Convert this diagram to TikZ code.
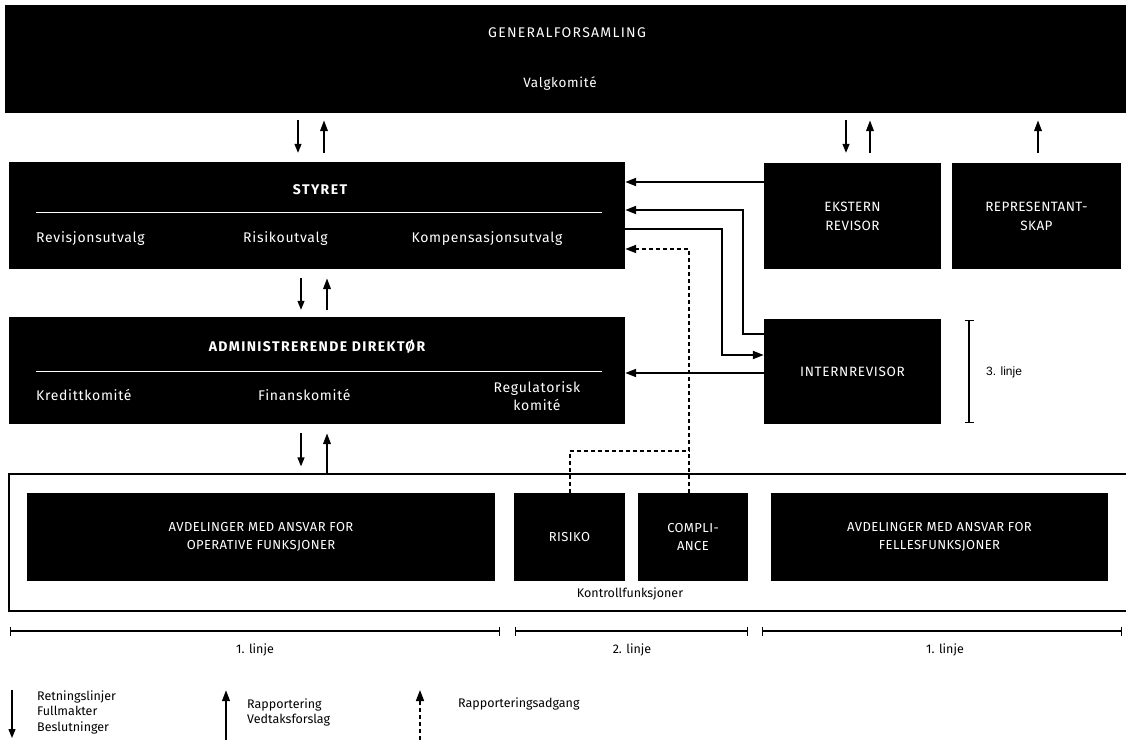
\documentclass[tikz,border=0pt]{standalone}
\usepackage{fontspec}
\setmainfont{Fira Sans}
\newfontfamily\trkA[LetterSpace=9]{Fira Sans}
\newfontfamily\trkB[LetterSpace=5]{Fira Sans}
\newfontfamily\trkC[LetterSpace=3]{Fira Sans}
\newfontfamily\trkD[LetterSpace=10]{Fira Sans}
\newfontfamily\arl{Liberation Sans}
\usetikzlibrary{arrows.meta,calc}
\begin{document}
\begin{tikzpicture}[x=1pt,y=-1pt,
  box/.style={fill=black,inner sep=0pt},
  wtxt/.style={text=white,inner sep=0pt,align=center,font=\trkB\fontsize{14}{18}\selectfont},
  ctxt/.style={text=white,inner sep=0pt,align=center,font=\trkC\fontsize{13}{18}\selectfont},
  ttl/.style={text=white,inner sep=0pt,align=center,font=\trkD\bfseries\fontsize{14}{16}\selectfont},
  ltxt/.style={text=black,inner sep=0pt,align=left,font=\fontsize{12.5}{15.5}\selectfont},
  dn/.style={-{Triangle[length=9pt,width=7pt]},line width=1.2pt},
  up/.style={-{Triangle[length=11pt,width=7.5pt]},line width=2.2pt},
  conn/.style={-{Triangle[length=11pt,width=8pt]},line width=2pt},
  dconn/.style={-{Triangle[length=11pt,width=8pt]},line width=2pt,dash pattern=on 4pt off 3pt},
  dline/.style={line width=2pt,dash pattern=on 4pt off 3pt},
  spanline/.style={{Bar[width=9pt,line width=1.3pt]}-{Bar[width=9pt,line width=1.3pt]},line width=1.3pt}]
\useasboundingbox (0,0) rectangle (1126,740);
\fill[white] (0,0) rectangle (1126,740);

% main boxes
\node[box,minimum width=1122pt,minimum height=108pt] (gf) at (566,59) {};
\node[ctxt,font=\trkA\fontsize{14}{16}\selectfont] (gft) at (567,33) {GENERALFORSAMLING};
\node[ctxt,font=\trkB\fontsize{13.5}{16}\selectfont] (valg) at (560,84) {Valgkomité};

\node[box,minimum width=616pt,minimum height=107pt] (sty) at (317,215.5) {};
\node[ttl] (styt) at (320,190) {STYRET};
\draw[white,line width=1pt] (36,212) -- (602,212);
\node[wtxt,anchor=west] (rev) at (36,239) {Revisjonsutvalg};
\node[wtxt,anchor=west] (risu) at (243,239) {Risikoutvalg};
\node[wtxt] (komp) at (487,239) {Kompensasjonsutvalg};

\node[box,minimum width=177pt,minimum height=106pt] (eks) at (852.5,216) {};
\node[wtxt,font=\trkC\fontsize{13.5}{19}\selectfont] at (eks.center) {EKSTERN\\REVISOR};
\node[box,minimum width=169pt,minimum height=106pt] (rep) at (1036.5,216) {};
\node[wtxt,font=\trkC\fontsize{13.5}{19}\selectfont] at (rep.center) {REPRESENTANT-\\SKAP};

\node[box,minimum width=616pt,minimum height=107pt] (adm) at (317,370.5) {};
\node[ttl] (admt) at (317,347) {ADMINISTRERENDE DIREKTØR};
\draw[white,line width=1pt] (36,371) -- (602,371);
\node[wtxt,anchor=west] (kred) at (36,395) {Kredittkomité};
\node[wtxt,anchor=west] (fin) at (258,395) {Finanskomité};
\node[wtxt] (reg) at (537,396) {Regulatorisk\\komité};

\node[box,minimum width=177pt,minimum height=105pt] (int) at (852.5,371.5) {};
\node[wtxt,font=\trkB\fontsize{13.5}{19}\selectfont] at (int.center) {INTERNREVISOR};

% organisation frame
\node[draw,line width=1.2pt,fill=white,minimum width=1122pt,minimum height=137pt,inner sep=0pt] (org) at (570,542.5) {};
\node[box,minimum width=468pt,minimum height=88pt] (ope) at (261,537) {};
\node[ctxt] at (ope.center) {AVDELINGER MED ANSVAR FOR\\OPERATIVE FUNKSJONER};
\node[box,minimum width=111pt,minimum height=88pt] (ris) at (569.5,537) {};
\node[ctxt] at (ris.center) {RISIKO};
\node[box,minimum width=110pt,minimum height=88pt] (com) at (693,537) {};
\node[ctxt] at (com.center) {COMPLI-\\ANCE};
\node[box,minimum width=337pt,minimum height=88pt] (fel) at (939.5,537) {};
\node[ctxt] at (fel.center) {AVDELINGER MED ANSVAR FOR\\FELLESFUNKSJONER};
\node[ltxt] (kon) at (630,594) {Kontrollfunksjoner};

% helper coordinates
\coordinate (xa) at (298,0);
\coordinate (xb) at (324,0);
\coordinate (xc) at (301,0);
\coordinate (xd) at (327,0);
\coordinate (xe) at (846,0);
\coordinate (xf) at (870,0);
\coordinate (xg) at (1038,0);
\coordinate (xh) at (743,0);
\coordinate (xi) at (722,0);
\coordinate (xj) at (689,0);
\coordinate (y1) at (0,182);
\coordinate (y2) at (0,210);
\coordinate (y3) at (0,229);
\coordinate (y4) at (0,249);
\coordinate (y5) at (0,334);
\coordinate (y6) at (0,355);
\coordinate (y7) at (0,373);
\coordinate (y8) at (0,451);

% vertical arrows
\draw[dn,shorten <=7pt,shorten >=9pt] (gf.south -| xa) -- (sty.north -| xa);
\draw[up,shorten <=9pt,shorten >=7pt] (sty.north -| xb) -- (gf.south -| xb);
\draw[dn,shorten <=7pt,shorten >=10pt] (gf.south -| xe) -- (eks.north -| xe);
\draw[up,shorten <=10pt,shorten >=7pt] (eks.north -| xf) -- (gf.south -| xf);
\draw[up,shorten <=10pt,shorten >=7pt] (rep.north -| xg) -- (gf.south -| xg);
\draw[dn,shorten <=9pt,shorten >=7pt] (sty.south -| xc) -- (adm.north -| xc);
\draw[up,shorten <=7pt,shorten >=9pt] (adm.north -| xd) -- (sty.south -| xd);
\draw[dn,shorten <=9pt,shorten >=7pt] (adm.south -| xc) -- (org.north -| xc);
\draw[up,shorten >=9pt] (org.north -| xd) -- (adm.south -| xd);

% horizontal connectors
\draw[conn] (eks.west |- y1) -- (sty.east |- y1);
\draw[conn] (int.west |- y5) -- (xh |- y5) -- (xh |- y2) -- (sty.east |- y2);
\draw[conn] (sty.east |- y3) -- (xi |- y3) -- (xi |- y6) -- (int.west |- y6);
\draw[conn] (int.west |- y7) -- (adm.east |- y7);
\draw[dconn] (com.north -| xj) -- (xj |- y4) -- (sty.east |- y4);
\draw[dline] (ris.north) -- (ris.north |- y8) -- (xj |- y8);

% line spans
\coordinate (s1a) at (10,631);
\coordinate (s1b) at (500,631);
\coordinate (s2a) at (515,631);
\coordinate (s2b) at (748,631);
\coordinate (s3a) at (762,631);
\coordinate (s3b) at (1122,631);
\draw[spanline] (s1a) -- (s1b);
\draw[spanline] (s2a) -- (s2b);
\draw[spanline] (s3a) -- (s3b);
\node[ltxt] (l1) at (255,650) {1. linje};
\node[ltxt] (l2) at (632,650) {2. linje};
\node[ltxt] (l3) at (945,650) {1. linje};
\coordinate (s4a) at (969,320);
\coordinate (s4b) at (969,423);
\draw[spanline] (s4a) -- (s4b);
\node[ltxt,anchor=west,font=\arl\fontsize{12}{14}\selectfont] (l4) at (986,372) {3. linje};

% legend
\coordinate (g1a) at (12,690);
\coordinate (g1b) at (12,738);
\draw[dn] (g1a) -- (g1b);
\node[ltxt,anchor=west] (g1t) at (37,712) {Retningslinjer\\Fullmakter\\Beslutninger};
\coordinate (g2a) at (226,740);
\coordinate (g2b) at (226,690);
\draw[up] (g2a) -- (g2b);
\node[ltxt,anchor=west] (g2t) at (247,712.5) {Rapportering\\Vedtaksforslag};
\coordinate (g3a) at (420,740);
\coordinate (g3b) at (420,690);
\draw[dconn,line width=1.6pt] (g3a) -- (g3b);
\node[ltxt,anchor=west] (g3t) at (458,704) {Rapporteringsadgang};
\end{tikzpicture}
\end{document}
